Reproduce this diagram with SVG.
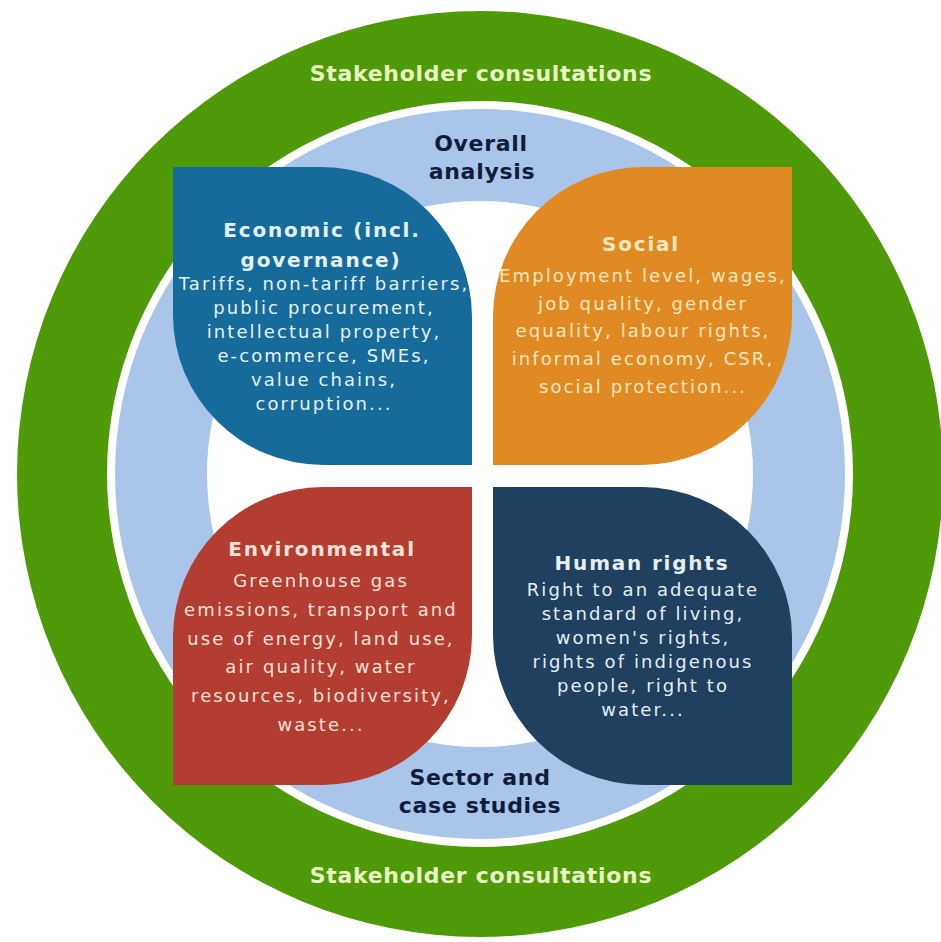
<svg xmlns="http://www.w3.org/2000/svg" width="941" height="942" viewBox="0 0 941 942">
  <style>
    .ring-label { font-family: "DejaVu Sans", Verdana, sans-serif; font-weight: bold; font-size: 22px; text-anchor: middle; letter-spacing: 0.7px; }
    .green-label { fill: #e9f6c4; }
    .blue-label { fill: #0f1d3a; }
    .title { font-family: "DejaVu Sans", Verdana, sans-serif; font-weight: bold; font-size: 20px; text-anchor: middle; letter-spacing: 1.8px; }
    .body { font-family: "DejaVu Sans", Verdana, sans-serif; font-size: 18px; text-anchor: middle; letter-spacing: 2.1px; }
    .econ-fill { fill: #176b9b; }
    .soc-fill { fill: #e08a23; }
    .env-fill { fill: #b23d30; }
    .hr-fill { fill: #1f405f; }
    .econ-text { fill: #e2f2fc; }
    .soc-text { fill: #fce6bd; }
    .env-text { fill: #f8e2d6; }
    .hr-text { fill: #e6edf4; }
  </style>

  <rect width="941" height="942" fill="#ffffff"/>

  <g id="rings">
    <circle cx="480" cy="474" r="463" fill="#4f9a08"/>
    <circle cx="480" cy="474" r="373" fill="#ffffff"/>
    <circle cx="480" cy="474" r="365" fill="#a9c5ea"/>
    <circle cx="480" cy="474" r="273" fill="#ffffff"/>
  </g>

  <g id="stakeholder-top">
    <text class="ring-label green-label" x="481" y="81">Stakeholder consultations</text>
  </g>
  <g id="stakeholder-bottom">
    <text class="ring-label green-label" x="481" y="883">Stakeholder consultations</text>
  </g>
  <g id="overall-analysis">
    <text class="ring-label blue-label" x="481" y="151">Overall</text>
    <text class="ring-label blue-label" x="482" y="179">analysis</text>
  </g>
  <g id="sector-case-studies">
    <text class="ring-label blue-label" x="480" y="785">Sector and</text>
    <text class="ring-label blue-label" x="480" y="813">case studies</text>
  </g>

  <g id="economic">
    <path class="econ-fill" d="M173,167 H322 A150,150 0 0 1 472,317 V465 H323 A150,150 0 0 1 173,315 Z"/>
    <text class="title econ-text" x="322" y="237">Economic (incl.</text>
    <text class="title econ-text" x="321" y="267">governance)</text>
    <text class="body econ-text" x="324" y="290">Tariffs, non-tariff barriers,</text>
    <text class="body econ-text" x="324" y="314">public procurement,</text>
    <text class="body econ-text" x="324" y="338">intellectual property,</text>
    <text class="body econ-text" x="324" y="362">e-commerce, SMEs,</text>
    <text class="body econ-text" x="324" y="386">value chains,</text>
    <text class="body econ-text" x="324" y="410">corruption...</text>
  </g>

  <g id="social">
    <path class="soc-fill" d="M643,167 H792 V315 A150,150 0 0 1 642,465 H493 V317 A150,150 0 0 1 643,167 Z"/>
    <text class="title soc-text" x="641" y="251">Social</text>
    <text class="body soc-text" x="643" y="282">Employment level, wages,</text>
    <text class="body soc-text" x="643" y="310">job quality, gender</text>
    <text class="body soc-text" x="643" y="337">equality, labour rights,</text>
    <text class="body soc-text" x="643" y="365">informal economy, CSR,</text>
    <text class="body soc-text" x="643" y="393">social protection...</text>
  </g>

  <g id="environmental">
    <path class="env-fill" d="M323,487 H472 V635 A150,150 0 0 1 322,785 H173 V637 A150,150 0 0 1 323,487 Z"/>
    <text class="title env-text" x="322" y="556">Environmental</text>
    <text class="body env-text" x="321" y="587">Greenhouse gas</text>
    <text class="body env-text" x="321" y="616">emissions, transport and</text>
    <text class="body env-text" x="321" y="645">use of energy, land use,</text>
    <text class="body env-text" x="321" y="673">air quality, water</text>
    <text class="body env-text" x="321" y="702">resources, biodiversity,</text>
    <text class="body env-text" x="321" y="731">waste...</text>
  </g>

  <g id="human-rights">
    <path class="hr-fill" d="M493,487 H642 A150,150 0 0 1 792,637 V785 H643 A150,150 0 0 1 493,635 Z"/>
    <text class="title hr-text" x="642" y="570">Human rights</text>
    <text class="body hr-text" x="643" y="596">Right to an adequate</text>
    <text class="body hr-text" x="643" y="620">standard of living,</text>
    <text class="body hr-text" x="643" y="644">women's rights,</text>
    <text class="body hr-text" x="643" y="668">rights of indigenous</text>
    <text class="body hr-text" x="643" y="692">people, right to</text>
    <text class="body hr-text" x="643" y="716">water...</text>
  </g>

  <g id="connectors"/>
</svg>
